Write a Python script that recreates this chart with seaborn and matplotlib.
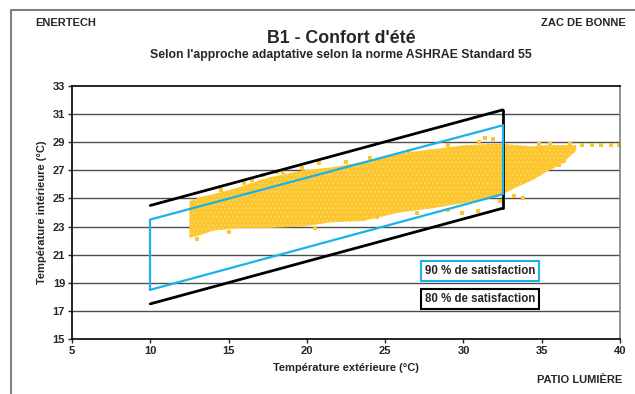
import matplotlib

matplotlib.use("Agg")
import matplotlib.pyplot as plt
import pandas as pd
import seaborn as sns
from matplotlib.lines import Line2D


# comfort band limits (outdoor temp -> indoor temp)
band_x = [10.0, 32.5]
band80_low = [17.5, 24.3]
band80_high = [24.5, 31.3]
band90_low = [18.5, 25.3]
band90_high = [23.5, 30.2]

# envelope of the dense measurement cloud
cloud_x = [12.5, 13.2, 14.0, 15.7, 17.0, 17.6, 19.75, 21.5, 23.6, 25.9, 28.0, 30.2, 32.3, 33.4, 34.4, 35.3, 36.2, 37.2]
cloud_top = [24.8, 25.1, 25.3, 25.8, 26.3, 26.5, 27.0, 27.2, 27.6, 28.2, 28.5, 28.8, 28.9, 28.8, 28.7, 28.8, 28.8, 28.8]
cloud_bottom = [22.2, 22.4, 22.7, 22.9, 22.9, 22.9, 23.0, 23.3, 23.4, 24.0, 24.3, 24.7, 25.2, 25.8, 26.3, 26.9, 27.4, 28.4]

# scattered points around the edges of the cloud
stray_x = [14.5, 16.0, 16.5, 17.2, 18.1, 18.5, 19.7, 20.8, 22.5, 24.0, 26.5, 29.0, 31.0, 31.4, 31.9,
           13.0, 15.0, 20.5, 24.5, 27.0, 29.0, 29.9, 30.9, 32.3, 33.2, 33.8,
           34.5, 35.0, 35.6, 35.8, 36.1, 36.4,
           34.8, 35.5, 36.8, 37.6, 38.2, 38.8, 39.4, 39.9]
stray_y = [25.6, 26.1, 26.3, 26.7, 26.9, 26.9, 27.2, 27.5, 27.6, 27.9, 28.4, 28.8, 29.0, 29.3, 29.2,
           22.1, 22.6, 22.9, 23.7, 24.0, 24.2, 24.0, 24.1, 24.8, 25.2, 25.0,
           27.0, 27.3, 27.3, 27.6, 27.4, 27.7,
           28.9, 28.9, 28.9, 28.8, 28.8, 28.8, 28.8, 28.8]

x_ticks = [5, 10, 15, 20, 25, 30, 35, 40]
y_ticks = [15, 17, 19, 21, 23, 25, 27, 29, 31, 33]

yellow = "#FCC62C"
light_yellow = "#FDDA7A"
blue = "#1AB2E8"


def main() -> None:
    sns.set_theme(style="white")
    plt.rcParams["font.family"] = ["Liberation Sans", "DejaVu Sans"]
    plt.rcParams["font.weight"] = "bold"
    plt.rcParams["hatch.linewidth"] = 0.6

    fig = plt.figure(figsize=(6.35, 3.94), dpi=100)
    ax = fig.add_axes([0.1134, 0.1396, 0.8631, 0.6421])

    for y in y_ticks[1:-1]:
        ax.axhline(y, color="#4d4d4d", linewidth=1.0, zorder=1)

    # dense cloud, with a light speckle to mimic the overlapping markers
    ax.fill_between(cloud_x, cloud_bottom, cloud_top, facecolor=yellow, edgecolor=light_yellow,
                    hatch="....", linewidth=0, zorder=2)
    stray = pd.DataFrame({"x": stray_x, "y": stray_y})
    sns.scatterplot(data=stray, x="x", y="y", ax=ax, color=yellow, marker="s", s=10,
                    linewidth=0, zorder=2)

    # 80 % band (black)
    ax.plot(band_x, band80_low, color="black", linewidth=2, zorder=3)
    ax.plot(band_x, band80_high, color="black", linewidth=2, zorder=3)
    ax.plot([band_x[1], band_x[1]], [band80_low[1], band80_high[1]], color="black", linewidth=2, zorder=3)

    # 90 % band (blue)
    ax.plot(band_x, band90_low, color=blue, linewidth=1.6, zorder=4)
    ax.plot(band_x, band90_high, color=blue, linewidth=1.6, zorder=4)
    ax.plot([band_x[0], band_x[0]], [band90_low[0], band90_high[0]], color=blue, linewidth=1.6, zorder=4)
    ax.plot([band_x[1], band_x[1]], [band90_low[1], band90_high[1]], color=blue, linewidth=1.6, zorder=4)

    ax.text(31.05, 19.85, "90 % de satisfaction", ha="center", va="center", fontsize=8.3,
            fontweight="bold", zorder=5,
            bbox=dict(boxstyle="square,pad=0.33", facecolor="white", edgecolor=blue, linewidth=1.5))
    ax.text(31.05, 17.85, "80 % de satisfaction", ha="center", va="center", fontsize=8.3,
            fontweight="bold", zorder=5,
            bbox=dict(boxstyle="square,pad=0.33", facecolor="white", edgecolor="black", linewidth=1.5))

    ax.set_xlim(5, 40)
    ax.set_ylim(15, 33)
    ax.set_xticks(x_ticks)
    ax.set_yticks(y_ticks)
    ax.tick_params(axis="both", labelsize=8, length=3, width=1, direction="out", pad=2,
                   bottom=True, left=True)
    for lab in ax.get_xticklabels() + ax.get_yticklabels():
        lab.set_fontweight("bold")
    for spine in ax.spines.values():
        spine.set_color("black")
        spine.set_linewidth(1.2)
    ax.spines["right"].set_color("#808080")

    ax.set_xlabel("Température extérieure (°C)", fontsize=8, fontweight="bold", labelpad=5)
    ax.set_ylabel("Température intérieure (°C)", fontsize=8, fontweight="bold", labelpad=4)

    fig.text(0.055, 0.942, "ENERTECH", fontsize=8, fontweight="bold", ha="left", va="center")
    fig.text(0.986, 0.942, "ZAC DE BONNE", fontsize=8, fontweight="bold", ha="right", va="center")
    fig.text(0.537, 0.903, "B1 - Confort d'été", fontsize=12.8, fontweight="bold", ha="center", va="center")
    fig.text(0.537, 0.86, "Selon l'approche adaptative selon la norme ASHRAE Standard 55", fontsize=8.8,
             fontweight="bold", ha="center", va="center")
    fig.text(0.98, 0.036, "PATIO LUMIÈRE", fontsize=8, fontweight="bold", ha="right", va="center")

    # outer frame of the original sheet (top and left edges only)
    fig.add_artist(Line2D([11 / 635, 11 / 635], [0, 1 - 10 / 394], color="#808080", linewidth=1.5))
    fig.add_artist(Line2D([11 / 635, 1], [1 - 10 / 394, 1 - 10 / 394], color="#808080", linewidth=1.5))

    fig.savefig("out.png", dpi=100)
    plt.close(fig)


if __name__ == "__main__":
    main()
